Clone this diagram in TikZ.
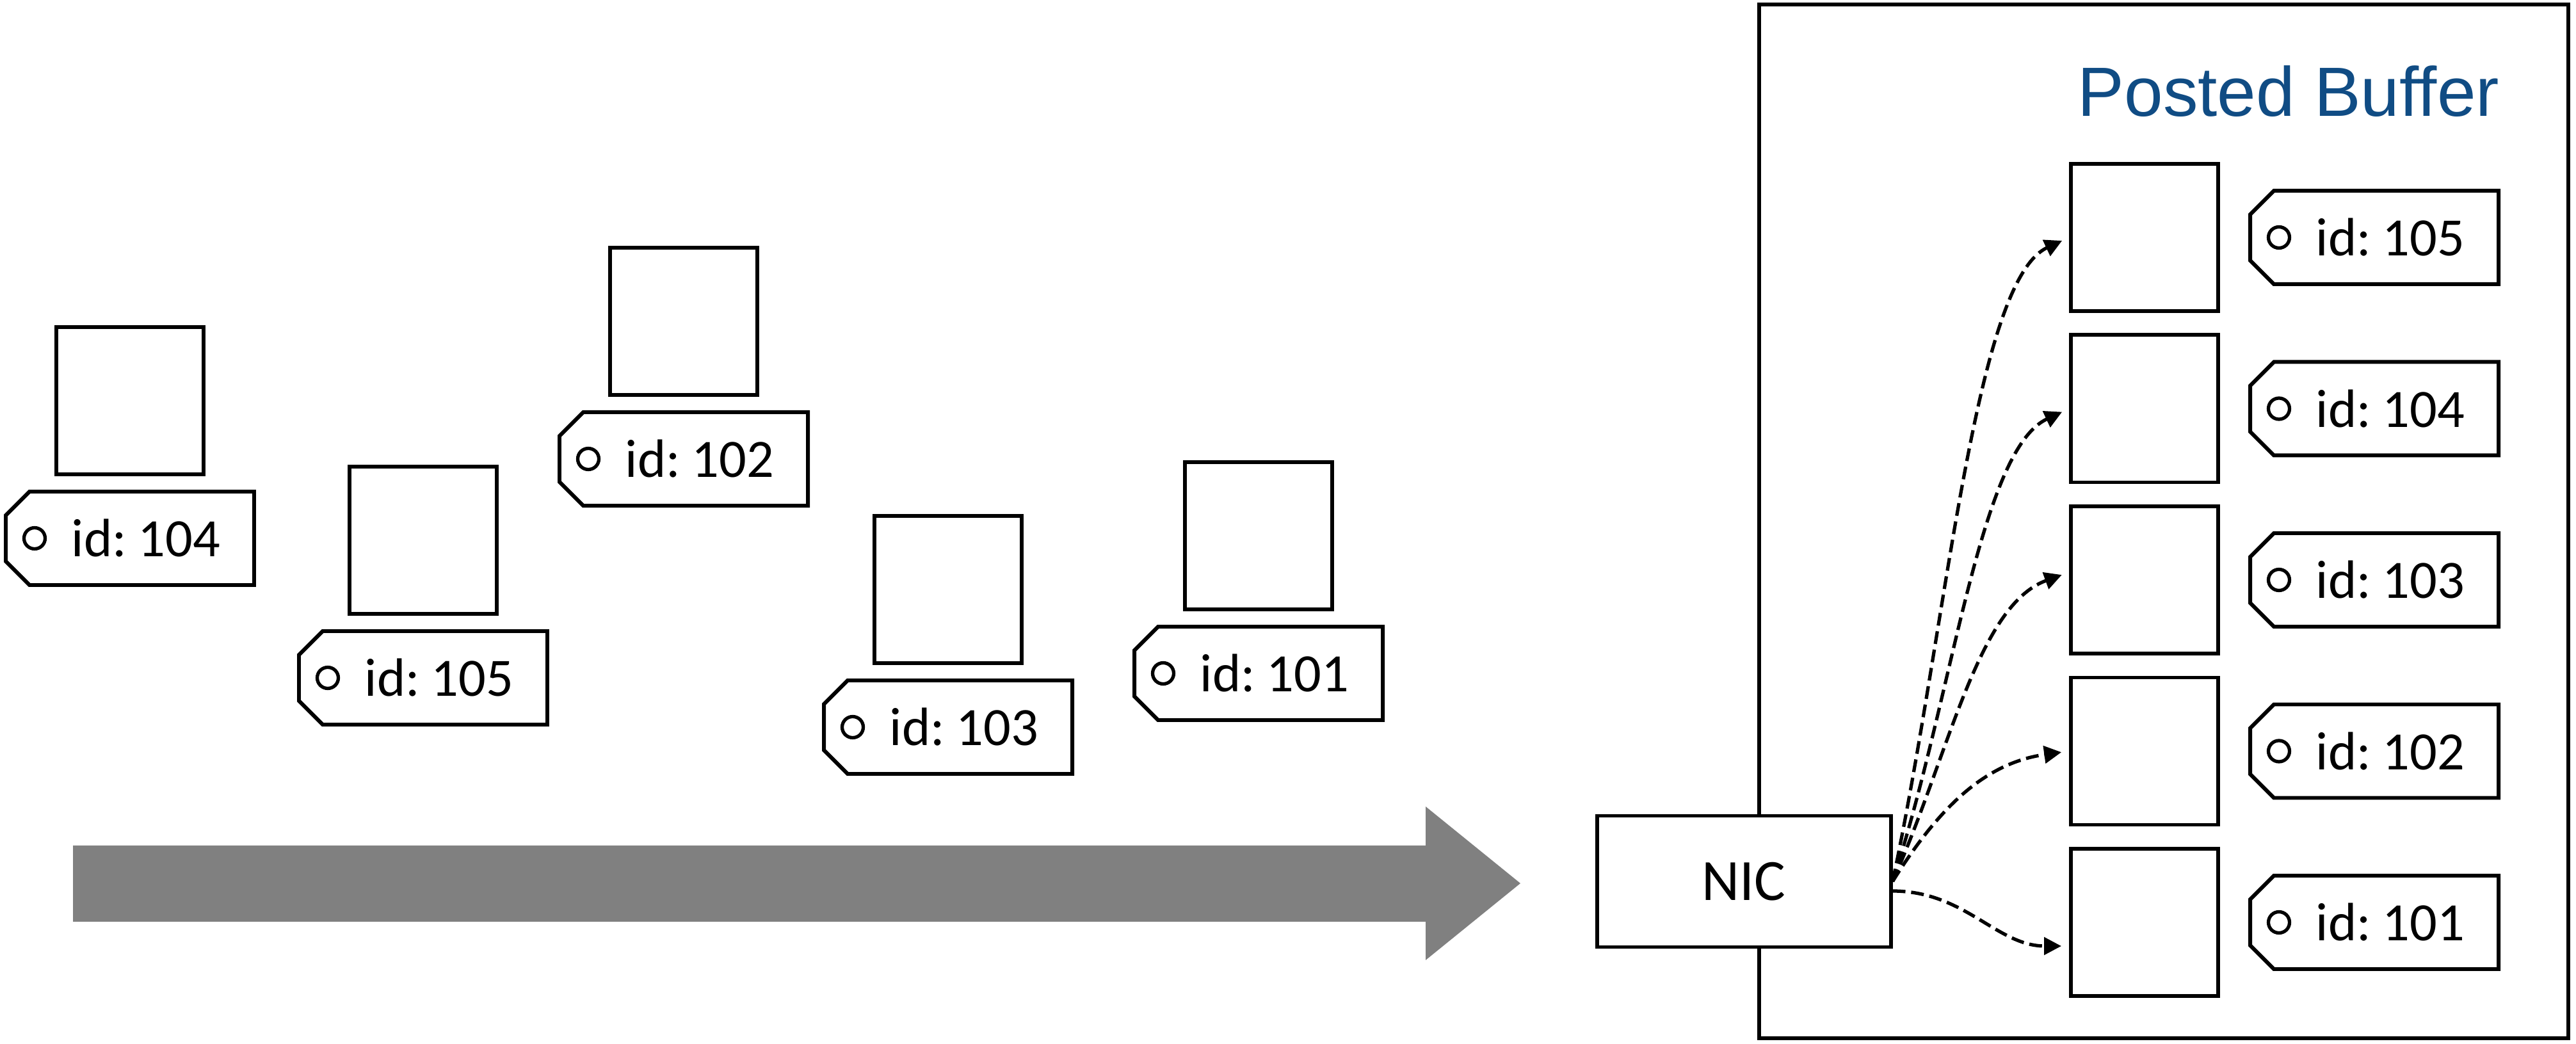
\documentclass[tikz,border=0pt]{standalone}
\usepackage{fontspec}
\setmainfont{Carlito}
\newfontfamily\tagfont{Carlito}[WordSpace=0.6]
\newfontfamily\titlefont{Liberation Sans}
\usetikzlibrary{positioning,shapes.misc,arrows.meta}

\definecolor{pbblue}{RGB}{16,76,132}
\definecolor{flowgray}{RGB}{128,128,128}

\tikzset{
	buf/.style={draw,line width=1.7pt,fill=white,minimum width=2.30cm,minimum height=2.30cm,inner sep=0pt},
	tag/.style={draw,line width=1.7pt,fill=white,chamfered rectangle,
		chamfered rectangle corners={north west,south west},chamfered rectangle xsep=0.26cm,
		minimum width=3.88cm,minimum height=1.46cm,inner sep=0pt,
		font=\tagfont\fontsize{24}{28}\selectfont,execute at begin node={\hspace*{0.50cm}},
		path picture={\draw[line width=1.5pt] ([xshift=0.45cm]path picture bounding box.west) circle (0.165);}},
	move/.style={line width=1.5pt,dash pattern=on 0.2cm off 0.09cm,-{Triangle[length=0.27cm,width=0.27cm]},shorten >=0.12cm}
}

\begin{document}
\begin{tikzpicture}
	\useasboundingbox (0,0) rectangle (40.24,16.31);
	
	% posted buffer area
	\draw[line width=1.7pt] (27.48,0.09) rectangle (40.12,16.24);
	\node[font=\titlefont\fontsize{31}{36}\selectfont,text=pbblue,anchor=base] (title) at (35.75,14.49) {Posted Buffer};
	
	% incoming messages
	\node[tag] (t104) at (2.03,7.90) {id: 104};
	\node[buf,above=0.21cm of t104] (m104) {};
	
	\node[tag] (t105) at (6.61,5.72) {id: 105};
	\node[buf,above=0.21cm of t105] (m105) {};
	
	\node[tag] (t102) at (10.68,9.14) {id: 102};
	\node[buf,above=0.21cm of t102] (m102) {};
	
	\node[tag] (t103) at (14.81,4.95) {id: 103};
	\node[buf,above=0.21cm of t103] (m103) {};
	
	\node[tag] (t101) at (19.66,5.79) {id: 101};
	\node[buf,above=0.21cm of t101] (m101) {};
	
	% flow
	\fill[flowgray] (1.14,3.10) -- (22.27,3.10) -- (22.27,3.71) -- (23.75,2.51) -- (22.27,1.31) -- (22.27,1.91) -- (1.14,1.91) -- cycle;
	
	\node[draw,line width=1.7pt,fill=white,minimum width=4.59cm,minimum height=2.05cm,font=\fontsize{26}{30}\selectfont] (nic) at (27.24,2.54) {NIC};
	
	% posted buffers
	\node[buf] (b105) at (33.50,12.60) {};
	\node[tag,right=0.44cm of b105] (l105) {id: 105};
	
	\node[buf] (b104) at (33.50,9.925) {};
	\node[tag,right=0.44cm of b104] (l104) {id: 104};
	
	\node[buf] (b103) at (33.50,7.25) {};
	\node[tag,right=0.44cm of b103] (l103) {id: 103};
	
	\node[buf] (b102) at (33.50,4.575) {};
	\node[tag,right=0.44cm of b102] (l102) {id: 102};
	
	\node[buf] (b101) at (33.50,1.90) {};
	\node[tag,right=0.44cm of b101] (l101) {id: 101};
	
	\draw[move] (nic.east) to[out=78,in=205,in looseness=0.4] (b105.west);
	\draw[move] (nic.east) to[out=72,in=205,in looseness=0.5] (b104.west);
	\draw[move] (nic.east) to[out=66,in=200,in looseness=0.7] ([yshift=0.12cm]b103.west);
	\draw[move] (nic.east) to[out=58,in=188] (b102.west);
	\draw[move] ([yshift=-0.15cm]nic.east) to[out=0,in=180] ([yshift=-0.37cm]b101.west);
\end{tikzpicture}
\end{document}
